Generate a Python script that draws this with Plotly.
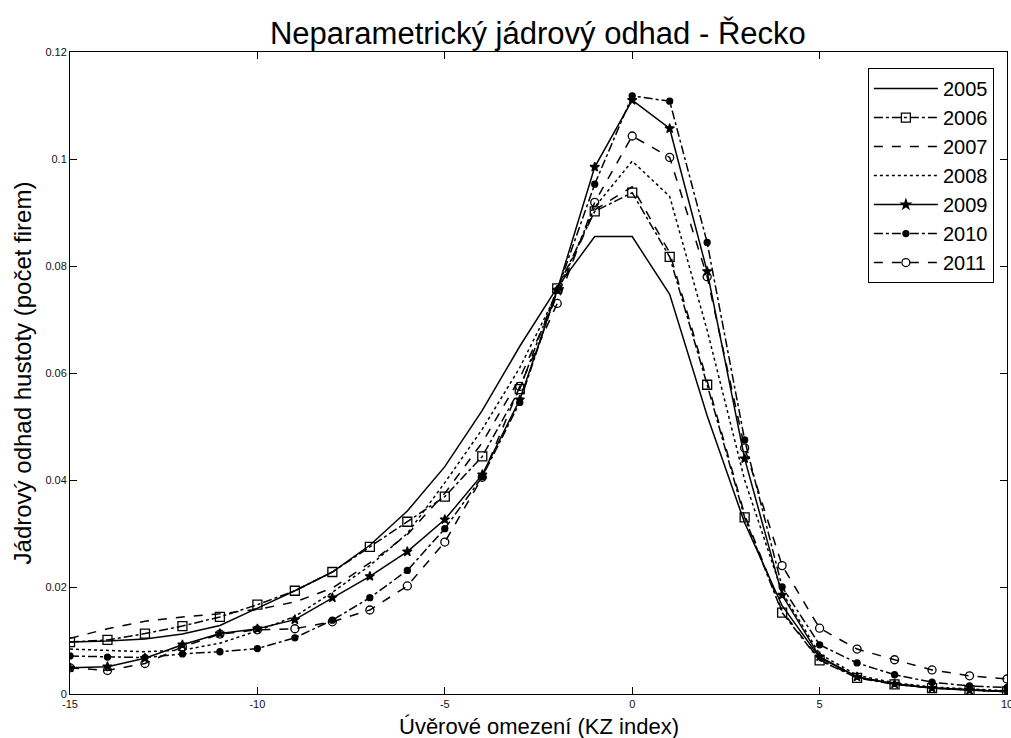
import plotly.graph_objects as go

x_vals = list(range(-15, 11))

y2005 = [0.0097, 0.0099, 0.0103, 0.0112, 0.0128, 0.0160, 0.0193, 0.0228, 0.0278, 0.0342,
         0.0425, 0.0530, 0.0650, 0.0760, 0.0855, 0.0855, 0.0747, 0.0520, 0.0320, 0.0165,
         0.0068, 0.0032, 0.0018, 0.0011, 0.0007, 0.0004]
y2006 = [0.0097, 0.0101, 0.0113, 0.0127, 0.0144, 0.0167, 0.0193, 0.0228, 0.0275, 0.0322,
         0.0369, 0.0444, 0.0570, 0.0758, 0.0902, 0.0937, 0.0817, 0.0578, 0.0330, 0.0152,
         0.0063, 0.0030, 0.0018, 0.0011, 0.0007, 0.0005]
y2007 = [0.0104, 0.0122, 0.0136, 0.0144, 0.0150, 0.0158, 0.0172, 0.0198, 0.0245, 0.0298,
         0.0375, 0.0470, 0.0590, 0.0745, 0.0905, 0.0948, 0.0825, 0.0585, 0.0335, 0.0155,
         0.0064, 0.0031, 0.0019, 0.0012, 0.0008, 0.0005]
y2008 = [0.0084, 0.0082, 0.0079, 0.0082, 0.0095, 0.0118, 0.0145, 0.0190, 0.0240, 0.0300,
         0.0395, 0.0495, 0.0610, 0.0750, 0.0910, 0.0996, 0.0930, 0.0680, 0.0400, 0.0190,
         0.0075, 0.0035, 0.0021, 0.0013, 0.0009, 0.0006]
y2009 = [0.0049, 0.0051, 0.0067, 0.0092, 0.0113, 0.0122, 0.0139, 0.0180, 0.0220, 0.0266,
         0.0326, 0.0410, 0.0550, 0.0755, 0.0985, 0.1110, 0.1057, 0.0790, 0.0440, 0.0185,
         0.0070, 0.0032, 0.0019, 0.0011, 0.0007, 0.0004]
y2010 = [0.0071, 0.0069, 0.0068, 0.0075, 0.0079, 0.0085, 0.0105, 0.0138, 0.0180, 0.0231,
         0.0309, 0.0406, 0.0545, 0.0755, 0.0953, 0.1118, 0.1108, 0.0844, 0.0475, 0.0200,
         0.0092, 0.0058, 0.0036, 0.0022, 0.0015, 0.0012]
y2011 = [0.0049, 0.0044, 0.0057, 0.0088, 0.0112, 0.0120, 0.0122, 0.0135, 0.0157, 0.0202,
         0.0284, 0.0405, 0.0575, 0.0730, 0.0919, 0.1043, 0.1003, 0.0780, 0.0460, 0.0240,
         0.0123, 0.0084, 0.0064, 0.0045, 0.0034, 0.0028]

x_ticks = [-15, -10, -5, 0, 5, 10]
x_ticktext = ["-15", "-10", "-5", "0", "5", "10"]
y_ticks = [0, 0.02, 0.04, 0.06, 0.08, 0.1, 0.12]
y_ticktext = ["0", "0.02", "0.04", "0.06", "0.08", "0.1", "0.12"]

series = [
    ("2005", y2005, "solid", None, None),
    ("2006", y2006, "dashdot", "square-open", 9),
    ("2007", y2007, "dash", None, None),
    ("2008", y2008, "dot", None, None),
    ("2009", y2009, "solid", "star", 7),
    ("2010", y2010, "dashdot", "circle", 6),
    ("2011", y2011, "dash", "circle-open", 8),
]

fig = go.Figure()
for name, ys, dash, sym, size in series:
    mode = "lines+markers" if sym else "lines"
    tr = dict(x=x_vals, y=ys, name=name, mode=mode,
              line=dict(color="black", width=1.5, dash=dash))
    if sym:
        tr["marker"] = dict(symbol=sym, size=size, color="black",
                            line=dict(color="black", width=1.3))
    fig.add_trace(go.Scatter(**tr))

axis_common = dict(showgrid=False, zeroline=False, showline=True, linecolor="black",
                   linewidth=1, mirror="ticks", ticks="inside", ticklen=7,
                   tickcolor="black", ticklabeloverflow="allow", automargin=False,
                   tickfont=dict(family="Liberation Sans", size=11, color="#111"))

fig.update_layout(
    width=1011, height=738,
    margin=dict(l=70, r=4, t=52, b=44),
    paper_bgcolor="white", plot_bgcolor="white",
    font=dict(family="Liberation Sans", color="black"),
    title=dict(text="Neparametrický jádrový odhad - Řecko", x=0.532, xanchor="center",
               y=0.955, yanchor="middle", font=dict(size=31, color="black")),
    xaxis=dict(range=[-15, 10], tickvals=x_ticks, ticktext=x_ticktext, **axis_common),
    yaxis=dict(range=[0, 0.12], tickvals=y_ticks, ticktext=y_ticktext,
               title=dict(text="Jádrový odhad hustoty (počet firem)", font=dict(size=24), standoff=6),
               **axis_common),
    legend=dict(x=0.986, xanchor="right", y=0.975, yanchor="top",
                bordercolor="black", borderwidth=1, bgcolor="white",
                font=dict(size=20, color="black"), itemwidth=64,
                tracegroupgap=0),
    showlegend=True,
    annotations=[dict(text="Úvěrové omezení (KZ index)", xref="paper", yref="paper",
                      x=0.5, y=-0.0732, xanchor="center", yanchor="bottom",
                      showarrow=False, font=dict(size=22, color="black"))],
)

fig.write_html("out.html")
